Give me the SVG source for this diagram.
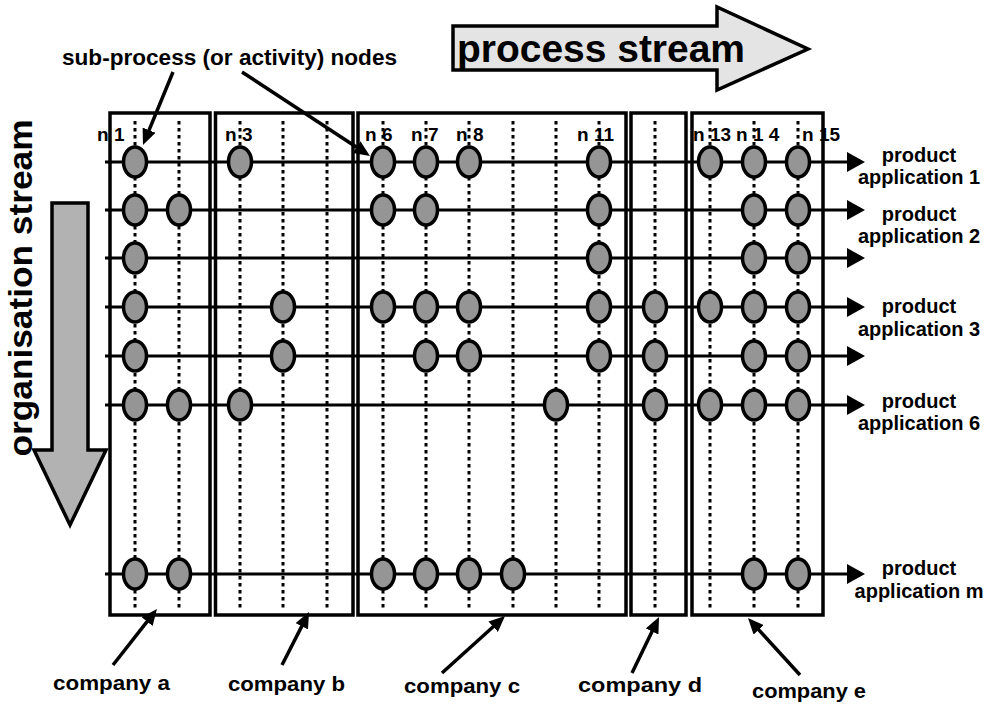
<svg xmlns="http://www.w3.org/2000/svg" width="988" height="705" viewBox="0 0 988 705">
  <style>
    .frame { fill: none; stroke: #000; stroke-width: 3.5; }
    .col { stroke: #000; stroke-width: 3; stroke-dasharray: 3.5 3.5; fill: none; }
    .row { stroke: #000; stroke-width: 3; fill: none; marker-end: url(#rowHead); }
    .ptr { stroke: #000; stroke-width: 3.5; fill: none; marker-end: url(#ptrHead); }
    .node { fill: #959595; stroke: #000; stroke-width: 3.5; }
    .lbl { font-family: "Liberation Sans", Arial, sans-serif; font-weight: bold; fill: #000; }
    .nlbl { font-size: 19px; }
    .plbl { font-size: 20px; text-anchor: middle; }
    .clbl { font-size: 21px; }
  </style>
  <defs>
    <marker id="rowHead" markerUnits="userSpaceOnUse" viewBox="0 0 18 20" markerWidth="18" markerHeight="20" refX="1" refY="10" orient="auto">
      <path d="M0,0 L18,10 L0,20 Z" fill="#000" stroke="none"/>
    </marker>
    <marker id="ptrHead" markerUnits="userSpaceOnUse" viewBox="0 0 16 14" markerWidth="16" markerHeight="14" refX="6" refY="7" orient="auto">
      <path d="M0,0 L16,7 L0,14 Z" fill="#000" stroke="none"/>
    </marker>
    <ellipse id="dot" cx="0" cy="0" rx="11.5" ry="15"/>
  </defs>

  <rect width="988" height="705" fill="#fff"/>

  <!-- big stream arrows -->
  <g id="process-stream">
    <path d="M453,26 H717 V7 L808,49 L717,90 V70 H453 Z" fill="#e4e4e4" stroke="#000" stroke-width="3.5" stroke-linejoin="miter"/>
    <text class="lbl" x="457" y="62" font-size="38" textLength="288" lengthAdjust="spacingAndGlyphs">process stream</text>
  </g>
  <g id="organisation-stream">
    <path d="M52,203 H88 V450 H106 L70,525 L34,450 H52 Z" fill="#b2b2b2" stroke="#000" stroke-width="3.5"/>
    <text class="lbl" transform="translate(32,288) rotate(-90)" text-anchor="middle" font-size="34" textLength="337" lengthAdjust="spacingAndGlyphs">organisation stream</text>
  </g>

  <!-- company frames -->
  <g id="company-a"><rect class="frame" x="110" y="113" width="100" height="502"/></g>
  <g id="company-b"><rect class="frame" x="215.5" y="113" width="137.5" height="502"/></g>
  <g id="company-c"><rect class="frame" x="358" y="113" width="268" height="502"/></g>
  <g id="company-d"><rect class="frame" x="631" y="113" width="55" height="502"/></g>
  <g id="company-e"><rect class="frame" x="692" y="113" width="131" height="502"/></g>

  <!-- node labels -->
  <g id="node-labels" class="lbl nlbl">
    <text x="97" y="141">n 1</text>
    <text x="225" y="141">n 3</text>
    <text x="365" y="141">n 6</text>
    <text x="411" y="141">n 7</text>
    <text x="456" y="141">n 8</text>
    <text x="577" y="141">n 11</text>
    <text x="693" y="141">n 13</text>
    <text x="736" y="141">n 1 4</text>
    <text x="802" y="141">n 15</text>
  </g>

  <!-- activity columns -->
  <g id="columns">
    <line class="col" x1="135" y1="121" x2="135" y2="608"/>
    <line class="col" x1="179" y1="121" x2="179" y2="608"/>
    <line class="col" x1="240" y1="121" x2="240" y2="608"/>
    <line class="col" x1="283" y1="121" x2="283" y2="608"/>
    <line class="col" x1="327" y1="121" x2="327" y2="608"/>
    <line class="col" x1="383" y1="121" x2="383" y2="608"/>
    <line class="col" x1="426" y1="121" x2="426" y2="608"/>
    <line class="col" x1="469" y1="121" x2="469" y2="608"/>
    <line class="col" x1="513" y1="121" x2="513" y2="608"/>
    <line class="col" x1="556" y1="121" x2="556" y2="608"/>
    <line class="col" x1="599" y1="121" x2="599" y2="608"/>
    <line class="col" x1="655" y1="121" x2="655" y2="608"/>
    <line class="col" x1="710" y1="121" x2="710" y2="608"/>
    <line class="col" x1="754" y1="121" x2="754" y2="608"/>
    <line class="col" x1="798" y1="121" x2="798" y2="608"/>
  </g>

  <!-- connectors: product application streams and pointers -->
  <g id="connectors">
    <line class="row" x1="105" y1="162" x2="848" y2="162"/>
    <line class="row" x1="105" y1="210" x2="848" y2="210"/>
    <line class="row" x1="105" y1="258" x2="848" y2="258"/>
    <line class="row" x1="105" y1="307" x2="848" y2="307"/>
    <line class="row" x1="105" y1="356" x2="848" y2="356"/>
    <line class="row" x1="105" y1="405" x2="848" y2="405"/>
    <line class="row" x1="105" y1="574" x2="848" y2="574"/>

    <line class="ptr" x1="173" y1="72" x2="146.8" y2="135.7"/>
    <line class="ptr" x1="242" y1="72" x2="361.6" y2="150.5"/>

    <line class="ptr" x1="113" y1="665" x2="150.8" y2="616.9"/>
    <line class="ptr" x1="282" y1="665" x2="304.5" y2="620.9"/>
    <line class="ptr" x1="442" y1="673" x2="497.6" y2="622.7"/>
    <line class="ptr" x1="632" y1="673" x2="654.7" y2="626"/>
    <line class="ptr" x1="800" y1="675" x2="754.7" y2="625.4"/>
  </g>

  <!-- sub-process nodes, row by row -->
  <g id="row-1">
    <g id="n-1-a1" class="node"><use href="#dot" x="135" y="162"/></g>
    <g id="n-1-b1" class="node"><use href="#dot" x="240" y="162"/></g>
    <g id="n-1-c1" class="node"><use href="#dot" x="383" y="162"/></g>
    <g id="n-1-c2" class="node"><use href="#dot" x="426" y="162"/></g>
    <g id="n-1-c3" class="node"><use href="#dot" x="469" y="162"/></g>
    <g id="n-1-c6" class="node"><use href="#dot" x="599" y="162"/></g>
    <g id="n-1-e1" class="node"><use href="#dot" x="710" y="162"/></g>
    <g id="n-1-e2" class="node"><use href="#dot" x="754" y="162"/></g>
    <g id="n-1-e3" class="node"><use href="#dot" x="798" y="162"/></g>
  </g>
  <g id="row-2">
    <g id="n-2-a1" class="node"><use href="#dot" x="135" y="210"/></g>
    <g id="n-2-a2" class="node"><use href="#dot" x="179" y="210"/></g>
    <g id="n-2-c1" class="node"><use href="#dot" x="383" y="210"/></g>
    <g id="n-2-c2" class="node"><use href="#dot" x="426" y="210"/></g>
    <g id="n-2-c6" class="node"><use href="#dot" x="599" y="210"/></g>
    <g id="n-2-e2" class="node"><use href="#dot" x="754" y="210"/></g>
    <g id="n-2-e3" class="node"><use href="#dot" x="798" y="210"/></g>
  </g>
  <g id="row-3">
    <g id="n-3-a1" class="node"><use href="#dot" x="135" y="258"/></g>
    <g id="n-3-c6" class="node"><use href="#dot" x="599" y="258"/></g>
    <g id="n-3-e2" class="node"><use href="#dot" x="754" y="258"/></g>
    <g id="n-3-e3" class="node"><use href="#dot" x="798" y="258"/></g>
  </g>
  <g id="row-4">
    <g id="n-4-a1" class="node"><use href="#dot" x="135" y="307"/></g>
    <g id="n-4-b2" class="node"><use href="#dot" x="283" y="307"/></g>
    <g id="n-4-c1" class="node"><use href="#dot" x="383" y="307"/></g>
    <g id="n-4-c2" class="node"><use href="#dot" x="426" y="307"/></g>
    <g id="n-4-c3" class="node"><use href="#dot" x="469" y="307"/></g>
    <g id="n-4-c6" class="node"><use href="#dot" x="599" y="307"/></g>
    <g id="n-4-d1" class="node"><use href="#dot" x="655" y="307"/></g>
    <g id="n-4-e1" class="node"><use href="#dot" x="710" y="307"/></g>
    <g id="n-4-e2" class="node"><use href="#dot" x="754" y="307"/></g>
    <g id="n-4-e3" class="node"><use href="#dot" x="798" y="307"/></g>
  </g>
  <g id="row-5">
    <g id="n-5-a1" class="node"><use href="#dot" x="135" y="356"/></g>
    <g id="n-5-b2" class="node"><use href="#dot" x="283" y="356"/></g>
    <g id="n-5-c2" class="node"><use href="#dot" x="426" y="356"/></g>
    <g id="n-5-c3" class="node"><use href="#dot" x="469" y="356"/></g>
    <g id="n-5-c6" class="node"><use href="#dot" x="599" y="356"/></g>
    <g id="n-5-d1" class="node"><use href="#dot" x="655" y="356"/></g>
    <g id="n-5-e2" class="node"><use href="#dot" x="754" y="356"/></g>
    <g id="n-5-e3" class="node"><use href="#dot" x="798" y="356"/></g>
  </g>
  <g id="row-6">
    <g id="n-6-a1" class="node"><use href="#dot" x="135" y="405"/></g>
    <g id="n-6-a2" class="node"><use href="#dot" x="179" y="405"/></g>
    <g id="n-6-b1" class="node"><use href="#dot" x="240" y="405"/></g>
    <g id="n-6-c5" class="node"><use href="#dot" x="556" y="405"/></g>
    <g id="n-6-d1" class="node"><use href="#dot" x="655" y="405"/></g>
    <g id="n-6-e1" class="node"><use href="#dot" x="710" y="405"/></g>
    <g id="n-6-e2" class="node"><use href="#dot" x="754" y="405"/></g>
    <g id="n-6-e3" class="node"><use href="#dot" x="798" y="405"/></g>
  </g>
  <g id="row-m">
    <g id="n-m-a1" class="node"><use href="#dot" x="135" y="574"/></g>
    <g id="n-m-a2" class="node"><use href="#dot" x="179" y="574"/></g>
    <g id="n-m-c1" class="node"><use href="#dot" x="383" y="574"/></g>
    <g id="n-m-c2" class="node"><use href="#dot" x="426" y="574"/></g>
    <g id="n-m-c3" class="node"><use href="#dot" x="469" y="574"/></g>
    <g id="n-m-c4" class="node"><use href="#dot" x="513" y="574"/></g>
    <g id="n-m-e2" class="node"><use href="#dot" x="754" y="574"/></g>
    <g id="n-m-e3" class="node"><use href="#dot" x="798" y="574"/></g>
  </g>

  <!-- annotations -->
  <g id="caption">
    <text class="lbl" x="62" y="65" font-size="22" textLength="335" lengthAdjust="spacingAndGlyphs">sub-process (or activity) nodes</text>
  </g>
  <g id="product-labels" class="lbl plbl">
    <text x="919" y="162">product</text>
    <text x="919" y="184">application 1</text>
    <text x="919" y="221">product</text>
    <text x="919" y="243">application 2</text>
    <text x="919" y="313">product</text>
    <text x="919" y="336">application 3</text>
    <text x="919" y="408">product</text>
    <text x="919" y="430">application 6</text>
    <text x="919" y="575">product</text>
    <text x="919" y="598">application m</text>
  </g>
  <g id="company-labels" class="lbl clbl">
    <text x="53" y="690" textLength="117" lengthAdjust="spacingAndGlyphs">company a</text>
    <text x="228" y="691" textLength="117" lengthAdjust="spacingAndGlyphs">company b</text>
    <text x="404" y="693" textLength="116" lengthAdjust="spacingAndGlyphs">company c</text>
    <text x="578" y="692" textLength="124" lengthAdjust="spacingAndGlyphs">company d</text>
    <text x="752" y="698" textLength="114" lengthAdjust="spacingAndGlyphs">company e</text>
  </g>
</svg>
